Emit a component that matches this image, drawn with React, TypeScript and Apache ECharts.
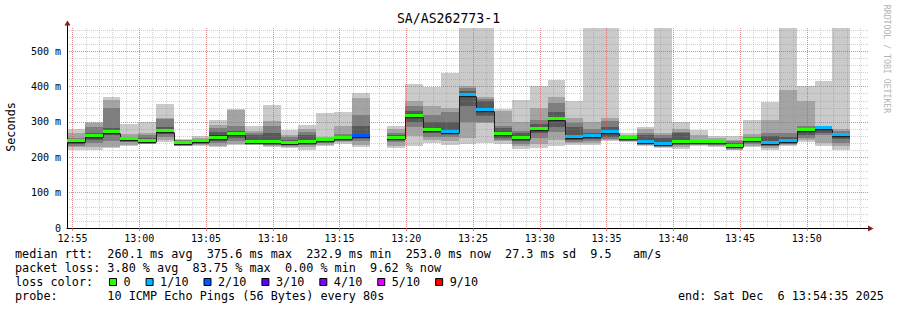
import React, { useEffect, useRef } from 'react';
import * as echarts from 'echarts';

// ---- data ----
const TITLE = 'SA/AS262773-1';
const X_START = '12:54:35';
const X_END = '13:54:35';
const STEP_SECONDS = 80;
const OFF = 1000; // ping above the drawn range (clipped at the top)

const STEP_START = ['12:54:35','12:55:55','12:57:15','12:58:35','12:59:55','13:01:15','13:02:35','13:03:55','13:05:15','13:06:35','13:07:55','13:09:15','13:10:35','13:11:55','13:13:15','13:14:35','13:15:55','13:17:15','13:18:35','13:19:55','13:21:15','13:22:35','13:23:55','13:25:15','13:26:35','13:27:55','13:29:15','13:30:35','13:31:55','13:33:15','13:34:35','13:35:55','13:37:15','13:38:35','13:39:55','13:41:15','13:42:35','13:43:55','13:45:15','13:46:35','13:47:55','13:49:15','13:50:35','13:51:55'];

// sorted pings (ms) per step: lowest ... highest
const PING_MIN = [220,220,225,231,238,242,231,233,228,234,235,228,225,222,233,239,228,null,225,231,241,234,238,240,239,224,226,231,236,236,245,242,233,226,224,231,228,220,229,220,233,243,231,222];
const PING_P2 = [228,228,230,236,239,248,233,235,233,238,237,231,230,228,236,242,235,null,233,260,248,245,255,298,245,232,238,248,240,240,248,245,236,230,230,234,232,222,232,225,235,248,240,232];
const PING_P3 = [233,240,245,242,241,258,235,237,240,245,238,235,234,236,240,246,245,null,243,285,258,258,300,300,250,238,255,272,244,246,252,247,238,233,236,237,235,225,238,232,238,255,262,240];
const PING_P4 = [238,250,262,248,243,265,237,240,245,255,239,238,238,240,243,249,255,null,250,300,268,268,345,316,255,245,268,285,248,252,258,250,240,236,240,239,238,228,242,236,242,262,270,252];
const PING_P5 = [243,258,268,251,245,272,239,243,252,262,240,241,240,241,246,252,259,null,254,314,273,270,372,330,262,250,276,302,254,256,266,253,241,237,242,241,241,231,246,239,245,272,280,258];
const PING_P6 = [247,265,276,255,250,280,243,246,262,268,246,246,243,244,250,256,263,null,258,322,280,275,378,340,270,260,286,315,262,262,276,257,244,240,247,244,244,235,250,243,250,280,284,265];
const PING_P7 = [248,270,282,256,255,285,245,248,272,275,262,270,250,264,252,260,290,null,262,330,300,300,388,358,282,268,295,328,285,268,285,258,262,255,268,246,246,240,254,260,258,283,285,270];
const PING_P8 = [255,285,340,258,262,308,248,252,282,290,268,288,258,272,254,265,321,null,270,345,320,328,395,365,290,275,305,355,298,280,302,260,268,262,272,250,250,245,258,268,268,290,287,275];
const PING_P9 = [270,297,362,265,268,312,250,256,292,333,275,302,262,280,257,290,368,null,280,360,345,340,402,372,330,300,340,372,312,300,310,262,280,268,280,262,255,250,265,305,390,360,290,280];
const PING_MAX = [281,300,372,294,300,352,252,259,307,337,290,349,278,291,325,327,382,null,288,408,399,440,OFF,OFF,337,361,403,420,358,OFF,OFF,269,286,OFF,299,278,261,259,307,356,OFF,403,415,OFF];
const MEDIAN = [245,261,272,253,247,275,241,245,256,265,243,243,241,242,248,254,261,null,256,318,276,272,375,335,266,255,281,308,258,259,271,255,242,238,244,242,242,233,248,241,247,276,282,262];
const LOST = [0,0,0,0,0,0,0,0,0,0,0,0,0,0,0,0,2,null,0,0,0,1,1,1,0,0,0,0,1,1,1,0,1,1,0,0,0,0,0,1,1,0,1,1];

const LOSS_LEVELS = [0, 1, 2, 3, 4, 5, 9];
const LOSS_NAMES = ['0', '1/10', '2/10', '3/10', '4/10', '5/10', '9/10'];
const LOSS_COLORS = ['#26ff00', '#00b8ff', '#0059ff', '#5e00ff', '#7e00ff', '#dd00ff', '#ff0000'];
const SMOKE_COLORS = ['#cacaca', '#a4a4a4', '#7e7e7e', '#585858', '#323232'];

const Y_MAX = 566;

const STATS_LINES = [
  'median rtt:  260.1 ms avg  375.6 ms max  232.9 ms min  253.0 ms now  27.3 ms sd  9.5   am/s',
  'packet loss: 3.80 % avg  83.75 % max  0.00 % min  9.62 % now',
  'loss color:',
  'probe:       10 ICMP Echo Pings (56 Bytes) every 80s',
];
const END_TEXT = 'end: Sat Dec  6 13:54:35 2025';
const WATERMARK = 'RRDTOOL / TOBI OETIKER';
const Y_NAME = 'Seconds';

const MONO = '"DejaVu Sans Mono", monospace';

const toMin = (s: string) => {
  const [h, m, sec] = s.split(':').map(Number);
  return h * 60 + m + sec / 60;
};

function levelIndex(lost: number) {
  let idx = 0;
  LOSS_LEVELS.forEach((l, i) => {
    if (lost >= l) idx = i;
  });
  return idx;
}

export default function App() {
  const ref = useRef<HTMLDivElement>(null);

  useEffect(() => {
    if (!ref.current) return;
    const chart = echarts.init(ref.current, undefined, { renderer: 'svg' });

    const stepLen = STEP_SECONDS / 60;
    const smokeData: any[] = [];
    const medianData: any[] = [];
    const lossData: any[][] = LOSS_LEVELS.map(() => []);
    STEP_START.forEach((s, i) => {
      if (MEDIAN[i] == null) return;
      const t0 = toMin(s);
      const t1 = t0 + stepLen;
      smokeData.push([t0, t1, PING_MIN[i], PING_P2[i], PING_P3[i], PING_P4[i], PING_P5[i], PING_P6[i], PING_P7[i], PING_P8[i], PING_P9[i], PING_MAX[i]]);
      const prev = i > 0 && MEDIAN[i - 1] != null ? MEDIAN[i - 1] : null;
      medianData.push({ value: [t0, t1, MEDIAN[i], prev == null ? -1 : prev] });
      lossData[levelIndex(LOST[i] as number)].push([t0, t1, MEDIAN[i]]);
    });

    const xMin = toMin(X_START);
    const xMax = toMin(X_END);

    const fmtTime = (v: number) => {
      const r = Math.round(v);
      if (Math.abs(v - r) > 1e-6 || r % 5 !== 0) return '';
      return `${Math.floor(r / 60)}:${String(r % 60).padStart(2, '0')}`;
    };

    const minorLine = { color: 'rgba(140,140,140,0.4)', type: [1, 1] as any, width: 1 };
    const majorLine = { color: 'rgba(240,60,60,0.45)', type: [1, 1] as any, width: 1 };

    const series: any[] = [
      {
        type: 'custom',
        name: 'smoke',
        xAxisIndex: 0,
        yAxisIndex: 0,
        clip: true,
        z: 2,
        silent: true,
        data: smokeData,
        renderItem: (params: any, api: any) => {
          const t0 = api.value(0);
          const t1 = api.value(1);
          const v: number[] = [];
          for (let j = 0; j < 10; j++) v.push(api.value(2 + j));
          const children: any[] = [];
          for (let j = 0; j < 5; j++) {
            const a = api.coord([t0, v[9 - j]]);
            const b = api.coord([t1, v[j]]);
            const x0 = Math.round(a[0]);
            const x1 = Math.round(b[0]);
            const y0 = Math.round(a[1]);
            const y1 = Math.max(Math.round(b[1]), y0 + 1);
            children.push({
              type: 'rect',
              shape: { x: x0, y: y0, width: x1 - x0, height: y1 - y0 },
              style: { fill: SMOKE_COLORS[j] },
            });
          }
          return { type: 'group', children };
        },
      },
      {
        type: 'custom',
        name: 'median',
        xAxisIndex: 0,
        yAxisIndex: 0,
        clip: true,
        z: 4,
        silent: true,
        data: medianData,
        renderItem: (params: any, api: any) => {
          const t0 = api.value(0);
          const t1 = api.value(1);
          const med = api.value(2);
          const prev = api.value(3);
          const a = api.coord([t0, med]);
          const b = api.coord([t1, med]);
          const x0 = Math.round(a[0]);
          const x1 = Math.round(b[0]);
          const y = Math.round(a[1]) + 1.5;
          const children: any[] = [
            { type: 'line', shape: { x1: x0, y1: y, x2: x1, y2: y }, style: { stroke: '#202020', lineWidth: 1.5 } },
          ];
          if (prev > 0) {
            const p = api.coord([t0, prev]);
            const yp = Math.round(p[1]) + 1.5;
            children.push({ type: 'line', shape: { x1: x0 + 0.5, y1: yp, x2: x0 + 0.5, y2: y }, style: { stroke: '#202020', lineWidth: 1 } });
          }
          return { type: 'group', children };
        },
      },
      ...LOSS_LEVELS.map((_, li) => ({
        type: 'custom',
        name: LOSS_NAMES[li],
        xAxisIndex: 0,
        yAxisIndex: 0,
        clip: true,
        z: 5,
        silent: true,
        itemStyle: { color: LOSS_COLORS[li] },
        data: lossData[li],
        renderItem: (params: any, api: any) => {
          const a = api.coord([api.value(0), api.value(2)]);
          const b = api.coord([api.value(1), api.value(2)]);
          const x0 = Math.round(a[0]);
          const x1 = Math.round(b[0]);
          const y = Math.round(a[1]);
          return {
            type: 'rect',
            shape: { x: x0, y: y - 2, width: x1 - x0, height: 3 },
            style: { fill: LOSS_COLORS[li] },
          };
        },
      })),
    ];

    const textEls: any[] = STATS_LINES.map((t, i) => ({
      type: 'text',
      x: 15,
      y: 254 + i * 14.1,
      silent: true,
      style: { text: t, font: `11.8px ${MONO}`, fill: '#000', verticalAlign: 'middle', align: 'left' },
    }));

    const option: any = {
      animation: false,
      backgroundColor: '#ffffff',
      title: {
        text: TITLE,
        left: 'center',
        top: 12,
        padding: 0,
        textStyle: { fontFamily: MONO, fontSize: 13.2, fontWeight: 'normal', color: '#000' },
      },
      grid: { left: 67, right: 29, top: 28, bottom: 82, containLabel: false },
      legend: {
        data: LOSS_NAMES,
        left: 109,
        top: 275,
        padding: 0,
        icon: 'rect',
        itemWidth: 7,
        itemHeight: 7,
        itemGap: 15,
        selectedMode: false,
        itemStyle: { borderColor: '#000', borderWidth: 1 },
        textStyle: { fontFamily: MONO, fontSize: 11.8, color: '#000', lineHeight: 14, padding: [0, 0, 0, 2] },
      },
      xAxis: [
        {
          type: 'value',
          min: xMin,
          max: xMax,
          splitNumber: 12,
          z: 3,
          axisLine: { show: true, onZero: false, lineStyle: { color: '#000', width: 1 } },
          axisTick: { show: true, length: 3, lineStyle: { color: 'rgba(240,60,60,0.6)', width: 1 } },
          axisLabel: {
            show: true,
            margin: 5,
            fontFamily: MONO,
            fontSize: 10,
            color: '#000',
            showMinLabel: false,
            showMaxLabel: false,
            formatter: fmtTime,
          },
          splitLine: { show: true, showMinLine: false, showMaxLine: false, lineStyle: majorLine },
        },
        {
          type: 'value',
          min: xMin,
          max: xMax,
          splitNumber: 60,
          z: 2.5,
          axisLine: { show: false },
          axisTick: { show: false },
          axisLabel: { show: false },
          splitLine: { show: true, showMinLine: false, showMaxLine: false, lineStyle: minorLine },
        },
      ],
      yAxis: [
        {
          type: 'value',
          min: 0,
          max: Y_MAX,
          interval: 100,
          z: 3,
          axisLine: { show: true, lineStyle: { color: '#000', width: 1 } },
          axisTick: { show: false },
          axisLabel: {
            margin: 6,
            fontFamily: MONO,
            fontSize: 10,
            color: '#000',
            showMaxLabel: false,
            formatter: (v: number) => (v === 0 ? '0' : v % 100 === 0 ? `${v} m` : ''),
          },
          splitLine: { show: true, showMinLine: false, showMaxLine: false, lineStyle: majorLine },
        },
        {
          type: 'value',
          min: 0,
          max: Y_MAX,
          interval: 20,
          z: 2.5,
          axisLine: { show: false },
          axisTick: { show: false },
          axisLabel: { show: false },
          splitLine: { show: true, showMinLine: false, showMaxLine: false, lineStyle: minorLine },
        },
      ],
      series,
      graphic: [
        ...textEls,
        {
          type: 'text',
          x: 678,
          y: 296.3,
          silent: true,
          style: { text: END_TEXT, font: `11.8px ${MONO}`, fill: '#000', verticalAlign: 'middle', align: 'left' },
        },
        {
          type: 'text',
          x: 11,
          y: 127,
          rotation: Math.PI / 2,
          silent: true,
          style: { text: Y_NAME, font: `11.8px ${MONO}`, fill: '#000', verticalAlign: 'middle', align: 'center' },
        },
        {
          type: 'text',
          x: 886.5,
          y: 59,
          rotation: -Math.PI / 2,
          silent: true,
          style: { text: WATERMARK, font: `8.2px ${MONO}`, fill: '#b4b4b4', verticalAlign: 'middle', align: 'center' },
        },
        {
          type: 'line',
          silent: true,
          shape: { x1: 67.5, y1: 28, x2: 67.5, y2: 24 },
          style: { stroke: '#000', lineWidth: 1 },
        },
        {
          type: 'polygon',
          silent: true,
          shape: { points: [[64.5, 25.5], [70.5, 25.5], [67.5, 20.5]] },
          style: { fill: '#8a1c1c' },
        },
        {
          type: 'polygon',
          silent: true,
          shape: { points: [[868, 225.5], [868, 231.5], [873.5, 228.5]] },
          style: { fill: '#8a1c1c' },
        },
      ],
    };

    chart.setOption(option);
    return () => chart.dispose();
  }, []);

  return (
    <div
      ref={ref}
      style={{ position: 'fixed', left: 0, top: 0, width: 897, height: 310, background: '#fff' }}
    />
  );
}
